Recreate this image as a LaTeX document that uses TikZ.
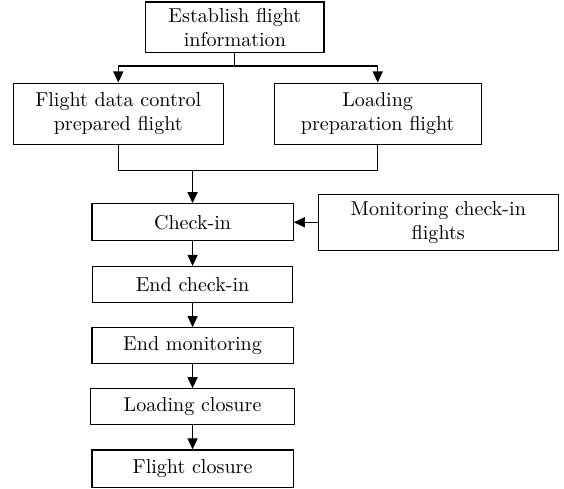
\documentclass[tikz,border=0pt]{standalone}
\usepackage{amsmath}
\usetikzlibrary{arrows.meta}

\begin{document}
\begin{tikzpicture}[
    box/.style={draw, line width=0.6pt, align=center, inner sep=1pt},
    arr/.style={line width=0.6pt, -{Triangle[length=5.5pt,width=5pt]}},
    lnk/.style={line width=0.6pt}
  ]
\useasboundingbox (0,0) rectangle (9.87,-8.5575);

% Top of the process
\node[box, minimum width=3.12cm, minimum height=0.89cm] (est) at (4.11,-0.48) {Establish flight\\information};
\node[box, minimum width=3.68cm, minimum height=1.07cm] (fdc) at (2.07,-1.99) {Flight data control\\prepared flight};
\node[box, minimum width=3.62cm, minimum height=1.07cm] (lpf) at (6.61,-1.99) {Loading\\preparation flight};

% Main column
\node[box, minimum width=3.52cm, minimum height=0.65cm] (chk) at (3.37,-3.89) {Check-in};
\node[box, minimum width=4.2cm, minimum height=0.98cm] (mon) at (7.67,-3.89) {Monitoring check-in\\flights};
\node[box, minimum width=3.5cm, minimum height=0.63cm] (endchk) at (3.37,-4.98) {End check-in};
\node[box, minimum width=3.52cm, minimum height=0.63cm] (endmon) at (3.37,-6.05) {End monitoring};
\node[box, minimum width=3.57cm, minimum height=0.63cm] (ldcl) at (3.37,-7.12) {Loading closure};
\node[box, minimum width=3.52cm, minimum height=0.65cm] (flcl) at (3.37,-8.2) {Flight closure};

% Split and merge points
\coordinate (split) at (4.11,-1.155);
\coordinate (merge) at (3.37,-2.99);

% Arrows between blocks
\draw[lnk] (est) -- (split);
\draw[arr] (split) -| (fdc);
\draw[arr] (split) -| (lpf);
\draw[lnk] (fdc) |- (merge);
\draw[lnk] (lpf) |- (merge);
\draw[arr] (merge) -- (chk);
\draw[arr] (mon) -- (chk);
\draw[arr] (chk) -- (endchk);
\draw[arr] (endchk) -- (endmon);
\draw[arr] (endmon) -- (ldcl);
\draw[arr] (ldcl) -- (flcl);

\end{tikzpicture}
\end{document}
